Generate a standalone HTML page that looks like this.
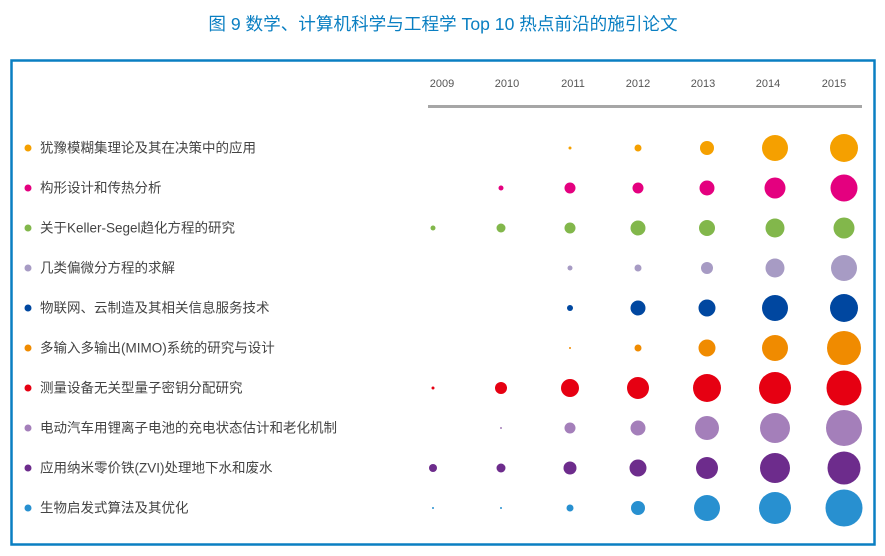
<!DOCTYPE html>
<html><head><meta charset="utf-8"><style>
body{margin:0;width:885px;height:556px;background:#fff;overflow:hidden;font-family:"Liberation Sans","Noto Sans CJK SC",sans-serif}
</style></head><body>
<svg width="885" height="556" xmlns="http://www.w3.org/2000/svg" style="position:absolute;left:0;top:0">
<text x="443" y="30" text-anchor="middle" font-size="17.6" fill="#0a7fc2" font-family="Liberation Sans,Noto Sans CJK SC,sans-serif">图 9   数学、计算机科学与工程学 Top 10 热点前沿的施引论文</text>
<rect x="11.5" y="60.5" width="863" height="484" fill="none" stroke="#0a7fc2" stroke-width="2.5"/>
<g font-size="11" fill="#555" text-anchor="middle" font-family="Liberation Sans,sans-serif">
<text x="442" y="87">2009</text><text x="507" y="87">2010</text><text x="573" y="87">2011</text><text x="638" y="87">2012</text><text x="703" y="87">2013</text><text x="768" y="87">2014</text><text x="834" y="87">2015</text>
</g>
<rect x="428" y="105" width="434" height="3" fill="#a6a6a6"/>
<g id="rows"></g>
</svg>
<script>
var cols=[433,501,570,638,707,775,844];
var rows=[
["犹豫模糊集理论及其在决策中的应用","#f5a000",[0,0,3,7,14,26,28]],
["构形设计和传热分析","#e4007f",[0,5,11,11,15,21,27]],
["关于Keller-Segel趋化方程的研究","#82b74b",[5,9,11,15,16,19,21]],
["几类偏微分方程的求解","#a79bc4",[0,0,5,7,12,19,26]],
["物联网、云制造及其相关信息服务技术","#0047a0",[0,0,6,15,17,26,28]],
["多输入多输出(MIMO)系统的研究与设计","#f08b00",[0,0,2,7,17,26,34]],
["测量设备无关型量子密钥分配研究","#e60012",[3,12,18,22,28,32,35]],
["电动汽车用锂离子电池的充电状态估计和老化机制","#a47fba",[0,2,11,15,24,30,36]],
["应用纳米零价铁(ZVI)处理地下水和废水","#6d2c8c",[8,9,13,17,22,30,33]],
["生物启发式算法及其优化","#2890d0",[2,2,7,14,26,32,37]]];
var s="";
rows.forEach(function(r,i){var y=148+i*40;
s+='<circle cx="28" cy="'+y+'" r="3.5" fill="'+r[1]+'"/>';
s+='<text x="40" y="'+(y+4.5)+'" font-size="13.5" fill="#444" font-family="Liberation Sans,Noto Sans CJK SC,sans-serif">'+r[0]+'</text>';
r[2].forEach(function(d,j){if(d)s+='<circle cx="'+cols[j]+'" cy="'+y+'" r="'+d/2+'" fill="'+r[1]+'"/>';});});
document.getElementById("rows").innerHTML=s;
</script>
</body></html>
